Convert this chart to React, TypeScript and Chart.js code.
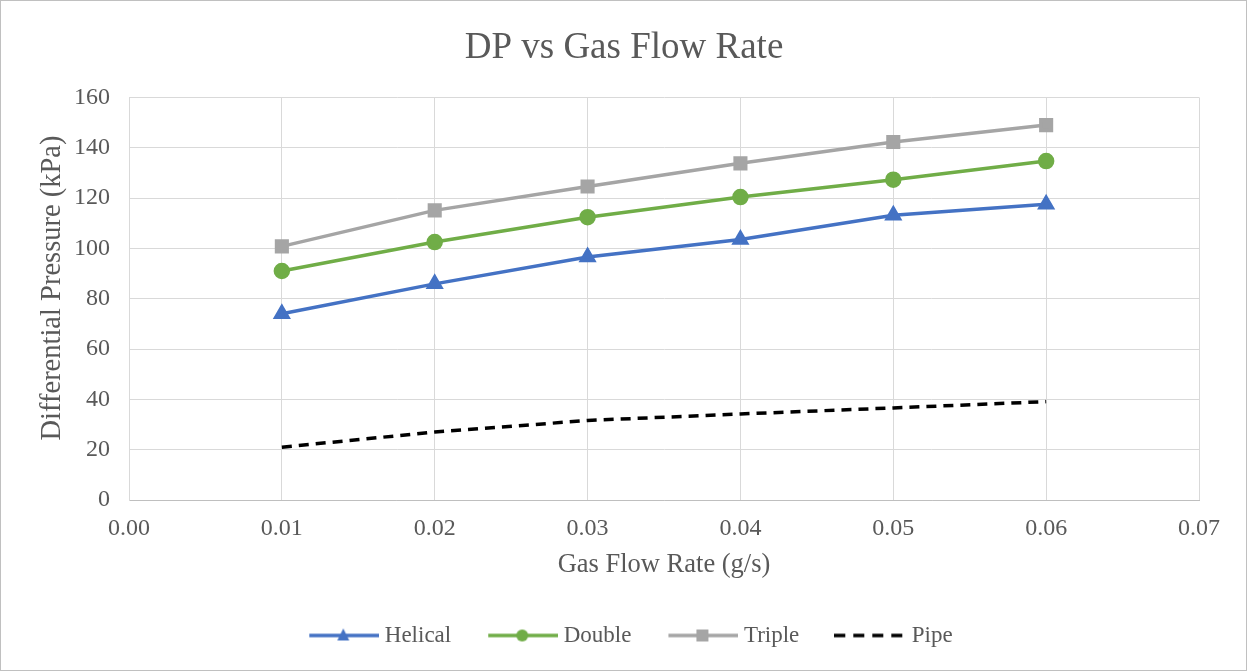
import React, { useEffect, useRef } from "react";
import { Chart, registerables } from "chart.js";

Chart.register(...registerables);

const xValues = [0.01, 0.02, 0.03, 0.04, 0.05, 0.06];
const helical = [74.0, 85.9, 96.6, 103.5, 113.2, 117.5];
const double = [91.0, 102.5, 112.4, 120.4, 127.3, 134.7];
const triple = [100.8, 115.1, 124.6, 133.8, 142.3, 149.0];
const pipe = [21.0, 27.0, 31.6, 34.2, 36.6, 39.1];

const seriesNames = ["Helical", "Double", "Triple", "Pipe"];
const FONT = "'Liberation Serif', 'Times New Roman', serif";

function makeLegendIcon(color: string, marker: string | null, dashed: boolean) {
  const c = document.createElement("canvas");
  c.width = 72;
  c.height = 20;
  const ctx = c.getContext("2d")!;
  ctx.strokeStyle = color;
  ctx.lineWidth = 3.5;
  if (dashed) ctx.setLineDash([11, 8]);
  ctx.beginPath();
  ctx.moveTo(dashed ? 0 : 2, 10);
  ctx.lineTo(72, 10);
  ctx.stroke();
  ctx.setLineDash([]);
  ctx.fillStyle = color;
  if (marker === "triangle") {
    ctx.beginPath();
    ctx.moveTo(36, 3);
    ctx.lineTo(42, 15);
    ctx.lineTo(30, 15);
    ctx.closePath();
    ctx.fill();
  } else if (marker === "circle") {
    ctx.beginPath();
    ctx.arc(36, 10, 6, 0, Math.PI * 2);
    ctx.fill();
  } else if (marker === "rect") {
    ctx.fillRect(30, 4, 12, 12);
  }
  return c;
}

const shiftBoxes = {
  id: "shiftBoxes",
  afterLayout(chart: any) {
    if (chart.legend) {
      chart.legend.left += 33;
      chart.legend.right += 33;
      chart.legend.top += 2;
      chart.legend.bottom += 2;
    }
    if (chart.titleBlock) {
      chart.titleBlock.left += 24;
      chart.titleBlock.right += 24;
    }
  },
};

export default function App() {
  const ref = useRef<HTMLCanvasElement>(null);
  useEffect(() => {
    document.body.style.margin = "0";
    const toPts = (arr: number[]) => arr.map((y, i) => ({ x: xValues[i], y }));
    const icons = [
      makeLegendIcon("#4472C4", "triangle", false),
      makeLegendIcon("#70AD47", "circle", false),
      makeLegendIcon("#A5A5A5", "rect", false),
      makeLegendIcon("#000000", null, true),
    ];
    const chart = new Chart(ref.current!, {
      type: "line",
      plugins: [shiftBoxes],
      data: {
        datasets: [
          {
            label: seriesNames[0],
            data: toPts(helical),
            borderColor: "#4472C4",
            backgroundColor: "#4472C4",
            borderWidth: 3.5,
            pointStyle: "triangle",
            pointRadius: 7,
            pointHoverRadius: 7,
          },
          {
            label: seriesNames[1],
            data: toPts(double),
            borderColor: "#70AD47",
            backgroundColor: "#70AD47",
            borderWidth: 3.5,
            pointStyle: "circle",
            pointRadius: 6.5,
            pointHoverRadius: 6.5,
          },
          {
            label: seriesNames[2],
            data: toPts(triple),
            borderColor: "#A5A5A5",
            backgroundColor: "#A5A5A5",
            borderWidth: 3.5,
            pointStyle: "rect",
            pointRadius: 7.5,
            pointHoverRadius: 7.5,
          },
          {
            label: seriesNames[3],
            data: toPts(pipe),
            borderColor: "#000000",
            backgroundColor: "#000000",
            borderWidth: 3.5,
            borderDash: [10, 7],
            pointRadius: 0,
            pointHoverRadius: 0,
          },
        ],
      },
      options: {
        responsive: false,
        animation: false,
        layout: { padding: { left: 0, right: 47, top: 25, bottom: 15 } },
        plugins: {
          title: {
            display: true,
            text: "DP vs Gas Flow Rate",
            color: "#595959",
            font: { family: FONT, size: 37, weight: "normal" },
            padding: { top: 0, bottom: 27 },
          },
          legend: {
            position: "bottom",
            labels: {
              usePointStyle: true,
              pointStyleWidth: 60,
              color: "#595959",
              font: { family: FONT, size: 23 },
              padding: 41,
              generateLabels: (ch: any) =>
                ch.data.datasets.map((ds: any, i: number) => ({
                  text: ds.label,
                  pointStyle: icons[i],
                  fillStyle: ds.borderColor,
                  strokeStyle: ds.borderColor,
                  lineWidth: 0,
                  fontColor: "#595959",
                  hidden: false,
                  datasetIndex: i,
                })),
            },
          },
          tooltip: { enabled: false },
        },
        scales: {
          x: {
            type: "linear",
            min: 0,
            max: 0.07,
            afterFit: (s: any) => {
              s.height = 81;
            },
            ticks: {
              stepSize: 0.01,
              color: "#595959",
              font: { family: FONT, size: 24 },
              callback: (v: any) => Number(v).toFixed(2),
              padding: 14,
              maxRotation: 0,
            },
            grid: { color: "#d9d9d9", lineWidth: 1, drawTicks: false },
            border: { color: "#bfbfbf" },
            title: {
              display: true,
              text: "Gas Flow Rate (g/s)",
              color: "#595959",
              font: { family: FONT, size: 26.5 },
              padding: { top: 0, bottom: 0 },
            },
          },
          y: {
            min: 0,
            max: 160,
            afterFit: (s: any) => {
              s.width = 128;
            },
            ticks: {
              stepSize: 20,
              color: "#595959",
              font: { family: FONT, size: 24 },
              padding: 19,
            },
            grid: { color: "#d9d9d9", lineWidth: 1, drawTicks: false },
            border: { color: "#d9d9d9" },
            title: {
              display: true,
              text: "   Differential Pressure (kPa)",
              color: "#595959",
              font: { family: FONT, size: 28.5 },
              padding: { top: 34, bottom: 0 },
            },
          },
        },
      },
    });
    return () => chart.destroy();
  }, []);
  return (
    <div
      style={{
        width: 1247,
        height: 671,
        boxSizing: "border-box",
        border: "1px solid #c0c0c0",
        background: "#fff",
      }}
    >
      <canvas ref={ref} width={1245} height={669} style={{ display: "block" }} />
    </div>
  );
}
